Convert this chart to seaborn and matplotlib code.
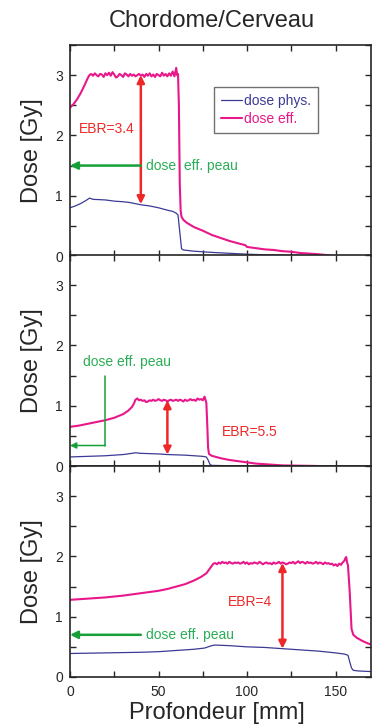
import numpy as np
import matplotlib
matplotlib.use("Agg")
import matplotlib.pyplot as plt
from matplotlib.ticker import MultipleLocator
import seaborn as sns

# --- donnees (profondeur en mm, dose en Gy) ---

# panneau 1 : dose physique
top_phys_x = [0, 3, 6, 9, 11, 13, 20, 25, 30, 33, 35, 40, 45, 50, 55, 58, 60, 61, 62, 63,
              64, 70, 80, 90, 100, 110, 120, 130, 140, 150]
top_phys_y = [0.80, 0.83, 0.87, 0.92, 0.96, 0.94, 0.93, 0.91, 0.90, 0.89, 0.88, 0.85, 0.83,
              0.80, 0.76, 0.74, 0.71, 0.68, 0.40, 0.12, 0.10, 0.08, 0.06, 0.045, 0.03, 0.02,
              0.015, 0.01, 0.005, 0.0]
# panneau 1 : dose effective
top_eff_x = ([0, 2, 4, 6, 8, 10, 11] + list(range(12, 61))
             + [60.5, 61, 61.5, 62, 62.5, 63, 64, 66, 70, 75, 80, 85, 90, 95, 99, 100, 105,
                110, 115, 120, 125, 130, 135, 140, 145, 150])
top_eff_y = [2.46, 2.52, 2.60, 2.70, 2.82, 2.95, 3.00,
             3.02, 2.99, 3.03, 3.00, 2.98, 3.02, 3.01, 2.97, 3.03, 3.00, 3.04, 2.99, 3.05,
             3.01, 2.96, 2.98, 3.02, 3.00, 2.97, 3.03, 3.01, 2.98, 3.02, 2.99, 3.01, 2.98,
             3.00, 3.02, 2.99, 3.01, 2.97, 3.02, 2.99, 3.03, 2.98, 3.01, 2.97, 3.02, 3.00,
             2.98, 3.04, 2.99, 3.02, 2.98, 3.03, 2.99, 3.06, 2.98, 3.12,
             3.00, 3.02, 2.50, 1.20, 0.75, 0.65, 0.60, 0.55, 0.48, 0.42, 0.35, 0.30, 0.25,
             0.21, 0.18, 0.15, 0.13, 0.11, 0.10, 0.08, 0.07, 0.05, 0.04, 0.03, 0.015, 0.0]

# panneau 2 : dose physique
mid_phys_x = [0, 10, 20, 30, 35, 37, 40, 50, 55, 60, 65, 70, 75, 77, 78, 79, 80, 90, 100]
mid_phys_y = [0.15, 0.16, 0.17, 0.19, 0.21, 0.22, 0.21, 0.20, 0.19, 0.185, 0.18, 0.17, 0.16,
              0.15, 0.10, 0.03, 0.01, 0.005, 0.0]
# panneau 2 : dose effective
mid_eff_x = ([0, 5, 10, 15, 20, 25, 30, 33, 35, 36, 37] + list(range(38, 77))
             + [76.5, 77, 77.5, 78, 78.5, 80, 85, 90, 95, 100, 105, 110, 115, 120, 130, 140])
mid_eff_y = [0.65, 0.67, 0.70, 0.73, 0.76, 0.80, 0.86, 0.92, 0.98, 1.03, 1.10,
             1.12, 1.09, 1.10, 1.08, 1.09, 1.06, 1.07, 1.09, 1.08, 1.10, 1.08, 1.09, 1.11,
             1.09, 1.08, 1.10, 1.09, 1.07, 1.09, 1.10, 1.08, 1.09, 1.10, 1.08, 1.10, 1.09,
             1.07, 1.10, 1.08, 1.09, 1.11, 1.09, 1.10, 1.08, 1.12, 1.10, 1.11, 1.09, 1.15,
             1.10, 1.05, 0.70, 0.30, 0.20, 0.17, 0.13, 0.10, 0.08, 0.06, 0.04, 0.03, 0.02,
             0.01, 0.005, 0.0]

# panneau 3 : dose physique
bot_phys_x = [0, 20, 40, 50, 60, 70, 76, 80, 82, 90, 100, 110, 120, 130, 140, 150, 155, 157,
              158, 159, 160, 163, 170]
bot_phys_y = [0.39, 0.40, 0.41, 0.42, 0.44, 0.46, 0.48, 0.52, 0.53, 0.52, 0.50, 0.49, 0.47,
              0.45, 0.43, 0.40, 0.38, 0.36, 0.25, 0.15, 0.11, 0.10, 0.09]
# panneau 3 : dose effective
bot_eff_x = ([0, 10, 20, 30, 40, 50, 55, 60, 65, 70, 74, 77, 79, 81] + list(range(82, 156))
             + [155.5, 156, 156.5, 157, 158, 159, 160, 162, 165, 168, 170])
bot_eff_y = [1.28, 1.30, 1.32, 1.35, 1.39, 1.43, 1.46, 1.50, 1.54, 1.60, 1.66, 1.72, 1.80, 1.88,
             1.89, 1.87, 1.90, 1.88, 1.91, 1.89, 1.90, 1.88, 1.91, 1.89, 1.88, 1.90, 1.89,
             1.90, 1.88, 1.89, 1.91, 1.88, 1.90, 1.87, 1.89, 1.88, 1.90, 1.89,
             1.88, 1.91, 1.89, 1.87, 1.89, 1.90, 1.88, 1.89, 1.87, 1.90, 1.88, 1.89, 1.91,
             1.88, 1.90, 1.89, 1.87, 1.88, 1.90, 1.89, 1.91, 1.88, 1.90, 1.92, 1.89, 1.91,
             1.90, 1.88, 1.91, 1.89, 1.90, 1.88, 1.89, 1.91, 1.88, 1.90, 1.89, 1.87, 1.90,
             1.88, 1.89, 1.87, 1.88, 1.85, 1.87, 1.84, 1.88, 1.86, 1.90, 1.93,
             1.97, 1.99, 1.90, 1.85, 1.40, 0.80, 0.70, 0.65, 0.60, 0.56, 0.54]

panels = [
    (top_phys_x, top_phys_y, top_eff_x, top_eff_y),
    (mid_phys_x, mid_phys_y, mid_eff_x, mid_eff_y),
    (bot_phys_x, bot_phys_y, bot_eff_x, bot_eff_y),
]

# fleches EBR : (x, y haut, y bas, texte, x texte, y texte)
ebr_arrows = [
    (40, 3.0, 0.86, "EBR=3.4", 5, 2.1),
    (55, 1.09, 0.19, "EBR=5.5", 86, 0.57),
    (120, 1.89, 0.47, "EBR=4", 89, 1.25),
]

COL_PHYS = "#3B3A96"
COL_EFF = "#E8178A"
COL_RED = "#EE2828"
COL_GREEN = "#17A03A"
COL_GTXT = "#2AAE55"

sns.set_style("ticks")
plt.rcParams["font.family"] = ["Liberation Sans", "DejaVu Sans"]

fig = plt.figure(figsize=(3.72, 7.27), dpi=100)
left, width = 70 / 372, 301 / 372
tops = [45, 255, 466]
axes = []
for t in tops:
    ax = fig.add_axes([left, 1 - (t + 211) / 727, width, 211 / 727])
    axes.append(ax)

for i, (ax, (px, py, ex, ey)) in enumerate(zip(axes, panels)):
    sns.lineplot(x=px, y=py, ax=ax, color=COL_PHYS, lw=0.9, estimator=None,
                 label="dose phys." if i == 0 else None, legend=False)
    sns.lineplot(x=ex, y=ey, ax=ax, color=COL_EFF, lw=1.5, estimator=None,
                 label="dose eff." if i == 0 else None, legend=False)
    ax.set_xlim(0, 170)
    ax.set_ylim(0, 3.5)
    ax.xaxis.set_major_locator(MultipleLocator(50))
    ax.xaxis.set_minor_locator(MultipleLocator(25))
    ax.yaxis.set_major_locator(MultipleLocator(1))
    ax.yaxis.set_minor_locator(MultipleLocator(0.5))
    ax.tick_params(which="both", direction="in", top=True, right=True,
                   length=4, width=1, labelsize=10, pad=5)
    ax.tick_params(axis="x", pad=6)
    for s in ax.spines.values():
        s.set_linewidth(1.2)
    ax.set_ylabel("Dose [Gy]", fontsize=17)
    ax.yaxis.set_label_coords(-0.09, 0.5)
    if i < 2:
        ax.tick_params(axis="x", labelbottom=False)
        ax.set_xlabel("")

    xa, y1, y2, txt, tx, ty = ebr_arrows[i]
    ax.annotate("", xy=(xa, y2), xytext=(xa, y1),
                arrowprops=dict(arrowstyle="<|-|>", color=COL_RED, lw=1.8,
                                mutation_scale=11, shrinkA=0, shrinkB=0))
    ax.text(tx, ty, txt, color=COL_RED, fontsize=10, ha="left", va="center")

# fleches "dose eff. peau"
axes[0].annotate("", xy=(0, 1.5), xytext=(40, 1.5),
                 arrowprops=dict(arrowstyle="-|>", color=COL_GREEN, lw=1.8,
                                 mutation_scale=11, shrinkA=0, shrinkB=0))
axes[0].text(43, 1.5, "dose  eff. peau", color=COL_GTXT, fontsize=10, va="center")

axes[1].plot([20, 20], [1.5, 0.34], color=COL_GREEN, lw=1.1)
axes[1].annotate("", xy=(0, 0.34), xytext=(20, 0.34),
                 arrowprops=dict(arrowstyle="-|>", color=COL_GREEN, lw=1.1,
                                 mutation_scale=9, shrinkA=0, shrinkB=0))
axes[1].text(7.5, 1.73, "dose eff. peau", color=COL_GTXT, fontsize=10, va="center")

axes[2].annotate("", xy=(0, 0.7), xytext=(40, 0.7),
                 arrowprops=dict(arrowstyle="-|>", color=COL_GREEN, lw=1.8,
                                 mutation_scale=11, shrinkA=0, shrinkB=0))
axes[2].text(43, 0.7, "dose eff. peau", color=COL_GTXT, fontsize=10, va="center")

leg = axes[0].legend(loc="upper left", bbox_to_anchor=(0.48, 0.8), fontsize=10,
                     frameon=True, fancybox=False, shadow=False, handlelength=1.5,
                     handletextpad=0.1, labelspacing=0.25, borderpad=0.5,
                     borderaxespad=0)
leg.get_frame().set_edgecolor("0.3")
leg.get_frame().set_linewidth(1.0)
for t, c in zip(leg.get_texts(), [COL_PHYS, COL_EFF]):
    t.set_color(c)

axes[2].set_xlabel("Profondeur [mm]", fontsize=17)
axes[2].xaxis.set_label_coords(0.488, -0.12)

fig.text(212 / 372, 1 - 21 / 727, "Chordome/Cerveau", fontsize=17, ha="center", va="center")

fig.savefig("out.png", dpi=100)
